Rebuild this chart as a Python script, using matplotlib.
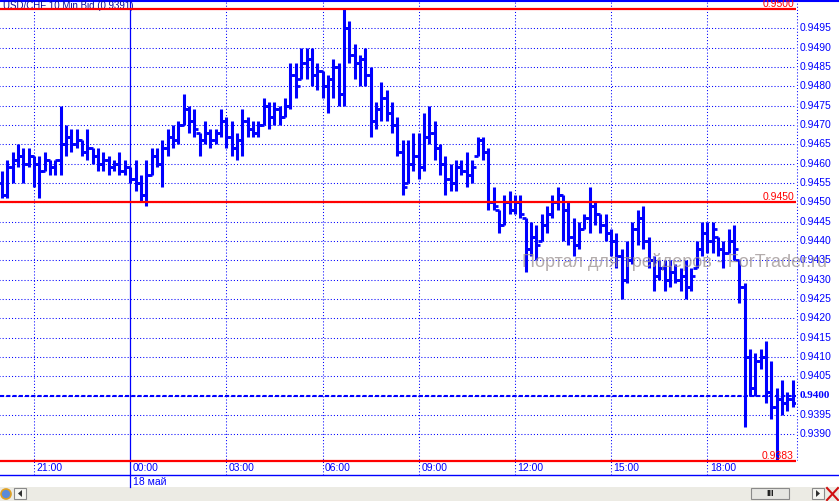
import numpy as np
import matplotlib
matplotlib.use("Agg")
import matplotlib.pyplot as plt
import matplotlib.transforms as mtransforms
from matplotlib.patches import Rectangle, Polygon, Circle

plt.rcParams['font.family'] = ['Liberation Sans', 'DejaVu Sans']

# USD/CHF 10 min bars, 17 May 20:00 -> 18 May 20:40
high = [0.9458, 0.9461, 0.9463, 0.9465, 0.9464, 0.9464, 0.9462, 0.9462, 0.9463, 0.9461,
        0.9461, 0.9475, 0.9470, 0.9469, 0.9469, 0.9466, 0.9469, 0.9464, 0.9464, 0.9463,
        0.9462, 0.9461, 0.9463, 0.9461, 0.9459, 0.9461, 0.9457, 0.9461, 0.9464, 0.9464,
        0.9466, 0.9469, 0.9470, 0.9471, 0.9478, 0.9475, 0.9474, 0.9468, 0.9471, 0.9469,
        0.9469, 0.9474, 0.9472, 0.9471, 0.9468, 0.9474, 0.9472, 0.9471, 0.9471, 0.9477,
        0.9476, 0.9476, 0.9475, 0.9477, 0.9486, 0.9486, 0.9490, 0.9490, 0.9490, 0.9486,
        0.9484, 0.9483, 0.9487, 0.9486, 0.9500, 0.9497, 0.9491, 0.9488, 0.9490, 0.9485,
        0.9476, 0.9481, 0.9479, 0.9476, 0.9472, 0.9466, 0.9466, 0.9468, 0.9468, 0.9473,
        0.9475, 0.9471, 0.9465, 0.9462, 0.9460, 0.9461, 0.9461, 0.9463, 0.9461, 0.9467,
        0.9467, 0.9464, 0.9454, 0.9448, 0.9452, 0.9453, 0.9452, 0.9452, 0.9446, 0.9445,
        0.9444, 0.9447, 0.9449, 0.9452, 0.9454, 0.9452, 0.9450, 0.9446, 0.9445, 0.9447,
        0.9454, 0.9450, 0.9447, 0.9447, 0.9443, 0.9442, 0.9438, 0.9440, 0.9445, 0.9448,
        0.9449, 0.9441, 0.9436, 0.9435, 0.9435, 0.9435, 0.9434, 0.9433, 0.9435, 0.9433,
        0.9440, 0.9445, 0.9445, 0.9445, 0.9441, 0.9440, 0.9443, 0.9444, 0.9435, 0.9429,
        0.9412, 0.9411, 0.9412, 0.9414, 0.9409, 0.9402, 0.9404, 0.9401, 0.9404]
low = [0.9451, 0.9451, 0.9455, 0.9459, 0.9455, 0.9459, 0.9454, 0.9451, 0.9458, 0.9457,
       0.9457, 0.9457, 0.9462, 0.9463, 0.9464, 0.9462, 0.9461, 0.9460, 0.9458, 0.9458,
       0.9457, 0.9458, 0.9457, 0.9457, 0.9455, 0.9453, 0.9450, 0.9449, 0.9457, 0.9459,
       0.9454, 0.9462, 0.9464, 0.9465, 0.9470, 0.9468, 0.9467, 0.9462, 0.9465, 0.9464,
       0.9465, 0.9467, 0.9464, 0.9462, 0.9461, 0.9462, 0.9467, 0.9467, 0.9467, 0.9470,
       0.9469, 0.9470, 0.9470, 0.9472, 0.9474, 0.9477, 0.9482, 0.9482, 0.9480, 0.9479,
       0.9477, 0.9473, 0.9477, 0.9475, 0.9475, 0.9486, 0.9482, 0.9480, 0.9480, 0.9467,
       0.9469, 0.9471, 0.9471, 0.9468, 0.9462, 0.9452, 0.9455, 0.9458, 0.9456, 0.9458,
       0.9465, 0.9461, 0.9457, 0.9452, 0.9453, 0.9453, 0.9457, 0.9454, 0.9455, 0.9462,
       0.9461, 0.9448, 0.9448, 0.9442, 0.9444, 0.9447, 0.9447, 0.9446, 0.9432, 0.9436,
       0.9435, 0.9440, 0.9442, 0.9446, 0.9448, 0.9440, 0.9439, 0.9436, 0.9438, 0.9443,
       0.9442, 0.9444, 0.9442, 0.9440, 0.9436, 0.9433, 0.9425, 0.9429, 0.9434, 0.9439,
       0.9438, 0.9433, 0.9427, 0.9430, 0.9427, 0.9428, 0.9429, 0.9427, 0.9425, 0.9427,
       0.9433, 0.9436, 0.9437, 0.9437, 0.9436, 0.9433, 0.9437, 0.9435, 0.9424, 0.9392,
       0.9400, 0.9400, 0.9407, 0.9398, 0.9394, 0.9383, 0.9395, 0.9396, 0.9397]
opens = [0.9455, 0.9452, 0.9459, 0.9461, 0.9462, 0.9460, 0.9462, 0.9460, 0.9458, 0.9461,
         0.9459, 0.9461, 0.9465, 0.9467, 0.9465, 0.9466, 0.9463, 0.9464, 0.9462, 0.9460,
         0.9461, 0.9459, 0.9460, 0.9458, 0.9459, 0.9456, 0.9455, 0.9452, 0.9457, 0.9462,
         0.9460, 0.9464, 0.9467, 0.9466, 0.9470, 0.9474, 0.9471, 0.9468, 0.9466, 0.9468,
         0.9466, 0.9468, 0.9471, 0.9467, 0.9464, 0.9466, 0.9471, 0.9469, 0.9468, 0.9470,
         0.9475, 0.9472, 0.9474, 0.9472, 0.9475, 0.9483, 0.9482, 0.9486, 0.9487, 0.9483,
         0.9484, 0.9480, 0.9482, 0.9485, 0.9478, 0.9495, 0.9488, 0.9486, 0.9487, 0.9483,
         0.9471, 0.9474, 0.9477, 0.9473, 0.9470, 0.9463, 0.9455, 0.9460, 0.9462, 0.9459,
         0.9467, 0.9468, 0.9464, 0.9460, 0.9456, 0.9455, 0.9459, 0.9458, 0.9457, 0.9462,
         0.9466, 0.9463, 0.9450, 0.9448, 0.9444, 0.9450, 0.9448, 0.9450, 0.9446, 0.9438,
         0.9441, 0.9440, 0.9444, 0.9447, 0.9450, 0.9452, 0.9448, 0.9441, 0.9439, 0.9443,
         0.9446, 0.9449, 0.9447, 0.9444, 0.9442, 0.9440, 0.9436, 0.9430, 0.9435, 0.9443,
         0.9446, 0.9440, 0.9435, 0.9431, 0.9433, 0.9430, 0.9432, 0.9430, 0.9431, 0.9428,
         0.9433, 0.9438, 0.9442, 0.9440, 0.9441, 0.9438, 0.9437, 0.9440, 0.9435, 0.9428,
         0.9410, 0.9402, 0.9409, 0.9410, 0.9401, 0.9397, 0.9399, 0.9398, 0.9399]
closes = [0.9452, 0.9459, 0.9461, 0.9462, 0.9460, 0.9462, 0.9460, 0.9458, 0.9461, 0.9459,
          0.9461, 0.9465, 0.9467, 0.9465, 0.9466, 0.9463, 0.9464, 0.9462, 0.9460, 0.9461,
          0.9459, 0.9460, 0.9458, 0.9459, 0.9456, 0.9455, 0.9452, 0.9457, 0.9462, 0.9460,
          0.9464, 0.9467, 0.9466, 0.9470, 0.9474, 0.9471, 0.9469, 0.9466, 0.9468, 0.9466,
          0.9468, 0.9471, 0.9467, 0.9464, 0.9466, 0.9471, 0.9469, 0.9468, 0.9470, 0.9475,
          0.9472, 0.9474, 0.9472, 0.9475, 0.9483, 0.9480, 0.9486, 0.9487, 0.9483, 0.9484,
          0.9480, 0.9482, 0.9485, 0.9478, 0.9495, 0.9488, 0.9486, 0.9487, 0.9483, 0.9471,
          0.9474, 0.9477, 0.9473, 0.9470, 0.9463, 0.9454, 0.9460, 0.9462, 0.9459, 0.9467,
          0.9468, 0.9464, 0.9460, 0.9456, 0.9455, 0.9459, 0.9458, 0.9457, 0.9459, 0.9466,
          0.9463, 0.9450, 0.9449, 0.9444, 0.9450, 0.9448, 0.9450, 0.9447, 0.9438, 0.9441,
          0.9439, 0.9444, 0.9447, 0.9450, 0.9452, 0.9448, 0.9441, 0.9439, 0.9443, 0.9446,
          0.9449, 0.9447, 0.9444, 0.9442, 0.9440, 0.9436, 0.9430, 0.9435, 0.9443, 0.9446,
          0.9440, 0.9435, 0.9431, 0.9433, 0.9430, 0.9432, 0.9430, 0.9431, 0.9428, 0.9431,
          0.9438, 0.9442, 0.9440, 0.9443, 0.9438, 0.9437, 0.9440, 0.9438, 0.9428, 0.9410,
          0.9402, 0.9409, 0.9410, 0.9401, 0.9397, 0.9399, 0.9398, 0.9399, 0.9398]

time_bars = [6, 24, 42, 60, 78, 96, 114, 132]
time_labels = ['21:00', '00:00', '03:00', '06:00', '09:00', '12:00', '15:00', '18:00']
day_label = '18 май'
price_ticks = [0.9390, 0.9395, 0.9400, 0.9405, 0.9410, 0.9415, 0.9420, 0.9425,
               0.9430, 0.9435, 0.9440, 0.9445, 0.9450, 0.9455, 0.9460, 0.9465,
               0.9470, 0.9475, 0.9480, 0.9485, 0.9490, 0.9495]
red_levels = [0.9500, 0.9450, 0.9383]
dash_level = 0.9400
title = 'USD/CHF 10 Min Bid (0.9391)'
watermark = 'Портал для трейдеров - ForTrader.ru'

BLUE = '#0000ff'
RED = '#ff0000'
W, H = 839, 501

fig = plt.figure(figsize=(W / 100, H / 100), dpi=100)
fig.patch.set_facecolor('white')

# pixel-space background layer
bg = fig.add_axes([0, 0, 1, 1], zorder=0)
bg.set_xlim(0, W)
bg.set_ylim(H, 0)
bg.axis('off')

# price chart area
ax = fig.add_axes([0, 1 - 475 / H, 796 / W, 475 / H], zorder=1)
ax.patch.set_visible(False)
ax.axis('off')
ax.set_xlim(-1.9 / 5.344, (796 - 1.9) / 5.344)
ax.set_ylim(0.937947, 0.950232)

px_y = mtransforms.blended_transform_factory(bg.transData, ax.transData)
dx_ay = mtransforms.blended_transform_factory(ax.transData, ax.transAxes)

# grid
dots = (0, (1, 2))
ax.hlines(price_ticks, -1, 149, color=BLUE, lw=0.75, linestyle=dots, zorder=1)
for b in time_bars:
    if b == 24:
        ax.plot([b, b], [-12 / 475, 1], color=BLUE, lw=0.9, transform=dx_ay,
                clip_on=False, zorder=1)
    else:
        ax.plot([b, b], [0, 1], color=BLUE, lw=0.75, linestyle=dots,
                transform=dx_ay, clip_on=False, zorder=1)
bg.plot([796.5, 796.5], [0, 460], color=BLUE, lw=0.75, linestyle=dots)

# OHLC bars
x = np.arange(len(high))
ax.vlines(x, low, high, color=BLUE, lw=2.2, zorder=3)
ax.hlines(opens, x - 0.75, x, color=BLUE, lw=2.0, zorder=3)
ax.hlines(closes, x, x + 0.75, color=BLUE, lw=2.0, zorder=3)

# horizontal levels
for lv in red_levels:
    ax.axhline(lv, color=RED, lw=1.6, zorder=4)
    ax.text(794, lv, '%.4f' % lv, transform=px_y, ha='right', va='bottom',
            color=RED, fontsize=7.5, clip_on=False, zorder=4)
ax.axhline(dash_level, color=BLUE, lw=1.5, linestyle=(0, (2, 1)), zorder=4)

# price axis labels
for p in price_ticks:
    if p == dash_level:
        ax.text(800, p, '%.4f' % p, transform=px_y, ha='left', va='center',
                color=BLUE, fontsize=8, fontweight='bold',
                family='Liberation Serif', clip_on=False)
    else:
        ax.text(800, p, '%.4f' % p, transform=px_y, ha='left', va='center',
                color=BLUE, fontsize=7.5, clip_on=False)

# time axis labels
for b, lab in zip(time_bars, time_labels):
    ax.text(b + 0.45, (475 - 468) / 475, lab, transform=dx_ay, ha='left',
            va='center', color=BLUE, fontsize=7.5, clip_on=False)
ax.text(24 + 0.45, (475 - 482) / 475, day_label, transform=dx_ay, ha='left',
        va='center', color=BLUE, fontsize=7.5, clip_on=False)

# frame lines
bg.plot([0, W], [0.8, 0.8], color=BLUE, lw=1.5)
bg.plot([0, W], [475, 475], color=BLUE, lw=1.0)
bg.text(3, 6, title, ha='left', va='center', color='#0a0a9a', fontsize=7)

# watermark
ax.text(522, 262, watermark, transform=bg.transData, ha='left', va='center',
        color='#9a9090', alpha=0.75, fontsize=13, clip_on=False, zorder=6)

# bottom scroll bar
bg.add_patch(Rectangle((0, 487), W, 14, facecolor='#ecebe4', edgecolor='none'))
bg.add_patch(Circle((6, 494), 5, facecolor='#5a8ad8', edgecolor='#e0a020', lw=1.2))
bg.add_patch(Rectangle((14, 488), 12, 11, facecolor='#f6f6f2', edgecolor='#8a8a8a', lw=0.8))
bg.add_patch(Polygon([[22, 490], [22, 497], [18, 493.5]], facecolor='#303030'))
bg.add_patch(Rectangle((751, 488), 38, 11, facecolor='#e6e6e2', edgecolor='#8a8a8a', lw=0.8))
bg.text(770, 493.5, 'III', ha='center', va='center', fontsize=6.5,
        fontweight='bold', color='#101010')
bg.add_patch(Rectangle((812, 488), 12, 11, facecolor='#f6f6f2', edgecolor='#8a8a8a', lw=0.8))
bg.add_patch(Polygon([[816, 490], [816, 497], [820, 493.5]], facecolor='#303030'))
bg.plot([827, 838], [488, 500], color='#d01010', lw=1.5)
bg.plot([827, 838], [500, 488], color='#d01010', lw=1.5)

fig.savefig('out.png', dpi=100)
